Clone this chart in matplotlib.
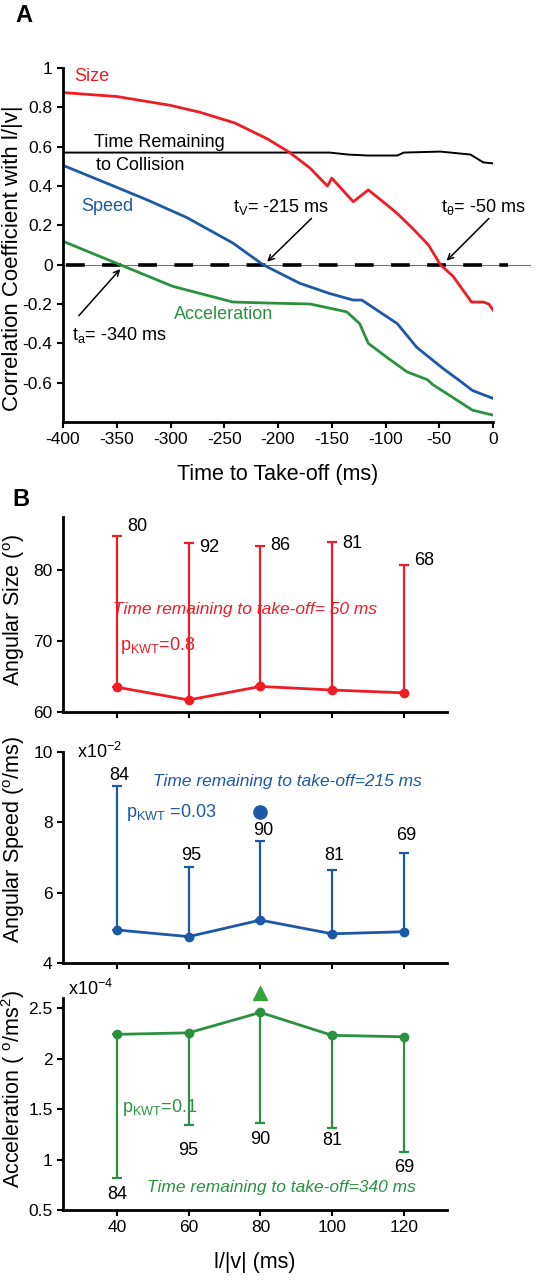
import matplotlib.pyplot as plt
import numpy as np

plt.rcParams['font.family'] = ['Liberation Sans', 'DejaVu Sans']
plt.rcParams['mathtext.fontset'] = 'custom'
plt.rcParams['mathtext.rm'] = 'Liberation Sans'
plt.rcParams['mathtext.it'] = 'Liberation Sans:italic'
plt.rcParams['axes.unicode_minus'] = False

RED = '#ee1c25'
BLUE = '#1d58a6'
GREEN = '#2a9140'

# ---- Panel A data (correlation coefficient vs time to take-off) ----
size_t = [-400, -350, -300, -272, -240, -210, -189, -170, -154, -150, -130, -116,
          -100, -89, -74, -60, -49, -37, -20, -9, -4, 0]
size_r = [0.875, 0.855, 0.81, 0.774, 0.72, 0.64, 0.57, 0.49, 0.40, 0.44, 0.32, 0.38,
          0.31, 0.26, 0.18, 0.10, 0.0, -0.06, -0.19, -0.19, -0.20, -0.23]

ttc_t = [-400, -152, -135, -117, -89, -83, -49, -21, -9, 0]
ttc_r = [0.57, 0.57, 0.56, 0.555, 0.555, 0.57, 0.575, 0.56, 0.52, 0.515]

speed_t = [-400, -353, -322, -285, -242, -214, -180, -153, -130, -122, -89, -71,
           -46, -31, -19, 0]
speed_r = [0.505, 0.40, 0.33, 0.24, 0.11, 0.0, -0.094, -0.145, -0.18, -0.18, -0.30,
           -0.42, -0.53, -0.59, -0.64, -0.68]

acc_t = [-400, -347, -298, -242, -210, -170, -153, -136, -124, -116, -99, -80,
         -61, -56, -19, 0]
acc_r = [0.119, 0.0, -0.11, -0.19, -0.195, -0.20, -0.22, -0.24, -0.30, -0.40, -0.47,
         -0.545, -0.585, -0.61, -0.74, -0.765]

# ---- Panel B data ----
lv = [40, 60, 80, 100, 120]
ang_size = [63.5, 61.7, 63.6, 63.1, 62.7]
ang_size_err = [21.3, 22.1, 19.8, 20.9, 18.1]
size_n = ['80', '92', '86', '81', '68']

ang_speed = [4.94, 4.75, 5.22, 4.83, 4.89]
ang_speed_err = [4.10, 1.97, 2.26, 1.82, 2.23]
speed_n = ['84', '95', '90', '81', '69']

ang_acc = [2.24, 2.255, 2.457, 2.23, 2.216]
ang_acc_err = [1.42, 0.915, 1.093, 0.915, 1.139]
acc_n = ['84', '95', '90', '81', '69']

W, H = 545, 1280
fig = plt.figure(figsize=(W / 100, H / 100), dpi=100)
LAB = 15.5


def style(ax):
    for s in ['top', 'right']:
        ax.spines[s].set_visible(False)
    for s in ['left', 'bottom']:
        ax.spines[s].set_linewidth(2)
    ax.tick_params(width=1.5, length=4, labelsize=12.5)


# ================= Panel A =================
axA = fig.add_axes([63 / W, 1 - 422 / H, 430 / W, 354 / H])
style(axA)
axA.plot([-400, 34], [0, 0], color='0.45', lw=0.8, clip_on=False)
axA.plot([-397, 14], [0, 0], color='black', lw=2.6, dashes=(5.2, 4.8), clip_on=False)
axA.plot(ttc_t, ttc_r, color='black', lw=1.4)
axA.plot(size_t, size_r, color=RED, lw=2)
axA.plot(speed_t, speed_r, color=BLUE, lw=2)
axA.plot(acc_t, acc_r, color=GREEN, lw=2)
axA.set_xlim(-400, 0)
axA.set_ylim(-0.8, 1.0)
axA.set_xticks(np.arange(-400, 1, 50))
yt = [-0.6, -0.4, -0.2, 0, 0.2, 0.4, 0.6, 0.8, 1.0]
axA.set_yticks(yt)
axA.set_yticklabels(['-0.6', '-0.4', '-0.2', '0', '0.2', '0.4', '0.6', '0.8', '1'])
axA.set_xlabel('Time to Take-off (ms)', fontsize=15.5, labelpad=12)
axA.set_ylabel('Correlation Coefficient with l/|v|', fontsize=16)
axA.yaxis.set_label_coords(-0.093, 0.463)

axA.text(-390, 0.955, 'Size', color=RED, fontsize=13, va='center')
axA.text(-371, 0.62, 'Time Remaining', color='black', fontsize=13, va='center')
axA.text(-369, 0.505, 'to Collision', color='black', fontsize=13, va='center')
axA.text(-383, 0.295, 'Speed', color=BLUE, fontsize=13, va='center')
axA.text(-297, -0.255, 'Acceleration', color=GREEN, fontsize=13, va='center')

arw = dict(arrowstyle='->', color='black', lw=1.1)
axA.text(-242, 0.295, r'$\mathregular{t_V}$= -215 ms', fontsize=13, va='center', ha='left')
axA.annotate('', xy=(-212, 0.005), xytext=(-167, 0.245), arrowprops=arw)
axA.text(-48, 0.295, r'$\mathregular{t_\theta}$= -50 ms', fontsize=13, va='center', ha='left')
axA.annotate('', xy=(-45, 0.01), xytext=(-2, 0.245), arrowprops=arw, annotation_clip=False)
axA.text(-392, -0.356, r'$\mathregular{t_a}$= -340 ms', fontsize=13, va='center', ha='left')
axA.annotate('', xy=(-345, -0.012), xytext=(-387, -0.27), arrowprops=arw)

fig.text(15 / W, 1 - 16 / H, 'A', fontsize=17, fontweight='bold', va='center')
fig.text(12 / W, 1 - 500 / H, 'B', fontsize=17, fontweight='bold', va='center')

# ================= Panel B =================
xl = (25, 132)
ax1 = fig.add_axes([63 / W, 1 - 712 / H, 384 / W, 195 / H])
ax2 = fig.add_axes([63 / W, 1 - 963 / H, 384 / W, 211 / H])
ax3 = fig.add_axes([63 / W, 1 - 1210 / H, 384 / W, 212 / H])
for ax in (ax1, ax2, ax3):
    style(ax)
    ax.set_xlim(*xl)
    ax.set_xticks(lv)

zeros = [0] * len(lv)

# Angular size
ax1.errorbar(lv, ang_size, yerr=[zeros, ang_size_err], fmt='none', ecolor=RED,
             elinewidth=1.6, capsize=3.5, capthick=1.6)
ax1.plot(lv, ang_size, '-o', color=RED, lw=2, ms=6, clip_on=False, zorder=5)
ax1.set_ylim(60, 87.5)
ax1.set_yticks([60, 70, 80])
ax1.set_xticklabels([])
ax1.set_ylabel(r'Angular Size ($\mathregular{^o}$)', fontsize=LAB)
ax1.yaxis.set_label_coords(-0.094, 0.523)
size_lab_y = [86.2, 83.2, 83.5, 83.8, 81.4]
for x, y, n in zip(lv, size_lab_y, size_n):
    ax1.text(x + 2.8, y, n, fontsize=13, va='center', ha='left')
ax1.text(39, 74.5, 'Time remaining to take-off= 50 ms', color=RED, fontsize=12.5,
         style='italic', va='center', ha='left')
ax1.text(41, 69.4, r'$\mathregular{p_{KWT}}$=0.8', color=RED, fontsize=13,
         va='center', ha='left')

# Angular speed
ax2.errorbar(lv, ang_speed, yerr=[zeros, ang_speed_err], fmt='none', ecolor=BLUE,
             elinewidth=1.6, capsize=3.5, capthick=1.6)
ax2.plot(lv, ang_speed, '-o', color=BLUE, lw=2, ms=6, clip_on=False, zorder=5)
ax2.plot([80], [8.3], 'o', color=BLUE, ms=9.5)
ax2.set_ylim(4, 10)
ax2.set_yticks([4, 6, 8, 10])
ax2.set_xticklabels([])
ax2.set_ylabel(r'Angular Speed ($\mathregular{^o}$/ms)', fontsize=LAB)
ax2.yaxis.set_label_coords(-0.094, 0.583)
speed_lab_y = [9.32, 7.07, 7.78, 7.07, 7.62]
for x, y, n in zip(lv, speed_lab_y, speed_n):
    ax2.text(x + 0.7, y, n, fontsize=13, va='center', ha='center')
ax2.text(50, 9.16, 'Time remaining to take-off=215 ms', color=BLUE, fontsize=12.5,
         style='italic', va='center', ha='left')
ax2.text(42.5, 8.27, r'$\mathregular{p_{KWT}}$ =0.03', color=BLUE, fontsize=13,
         va='center', ha='left')
ax2.text(0.036, 1.0, r'x10$\mathregular{^{-2}}$', transform=ax2.transAxes, fontsize=13,
         va='center', ha='left')

# Angular acceleration
ax3.errorbar(lv, ang_acc, yerr=[ang_acc_err, zeros], fmt='none', ecolor=GREEN,
             elinewidth=1.6, capsize=3.5, capthick=1.6)
ax3.plot(lv, ang_acc, '-o', color=GREEN, lw=2, ms=6, clip_on=False, zorder=5)
ax3.plot([80], [2.65], '^', color='#34a33a', ms=10, clip_on=False)
ax3.set_ylim(0.5, 2.6)
ax3.set_yticks([0.5, 1, 1.5, 2, 2.5])
ax3.set_yticklabels(['0.5', '1', '1.5', '2', '2.5'])
ax3.set_ylabel(r'Acceleration ( $\mathregular{^o}$/ms$\mathregular{^2}$)', fontsize=LAB)
ax3.yaxis.set_label_coords(-0.093, 0.571)
ax3.set_xlabel('l/|v| (ms)', fontsize=15.5, labelpad=12)
acc_lab_y = [0.65, 1.094, 1.20, 1.19, 0.92]
for x, y, n in zip(lv, acc_lab_y, acc_n):
    ax3.text(x, y, n, fontsize=13, va='center', ha='center')
ax3.text(48.5, 0.72, 'Time remaining to take-off=340 ms', color=GREEN, fontsize=12.5,
         style='italic', va='center', ha='left')
ax3.text(41.5, 1.52, r'$\mathregular{p_{KWT}}$=0.1', color=GREEN, fontsize=13,
         va='center', ha='left')
ax3.text(0.013, 1.045, r'x10$\mathregular{^{-4}}$', transform=ax3.transAxes, fontsize=13,
         va='center', ha='left')

fig.savefig('out.png', dpi=100)
